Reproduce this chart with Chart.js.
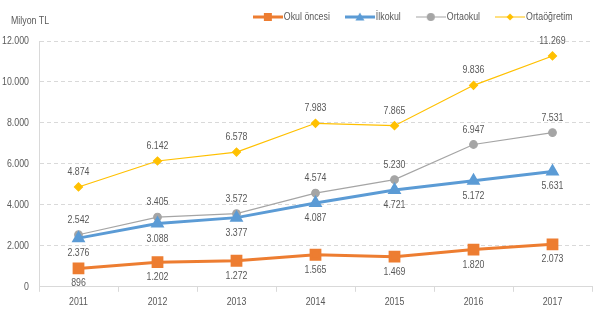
<!DOCTYPE html>
<html>
<head>
<meta charset="utf-8">
<script src="https://cdn.jsdelivr.net/npm/chart.js@4.4.0/dist/chart.umd.min.js"></script>
<style>
  html, body { margin: 0; padding: 0; background: #fff; }
  #wrap { width: 605px; height: 321px; }
</style>
</head>
<body>
<div id="wrap"><canvas id="chart"></canvas></div>
<script>
const years = ['2011', '2012', '2013', '2014', '2015', '2016', '2017'];
const okulOncesi = [896, 1202, 1272, 1565, 1469, 1820, 2073];
const ilkokul = [2376, 3088, 3377, 4087, 4721, 5172, 5631];
const ortaokul = [2542, 3405, 3572, 4574, 5230, 6947, 7531];
const ortaogretim = [4874, 6142, 6578, 7983, 7865, 9836, 11269];
const yTicks = [0, 2000, 4000, 6000, 8000, 10000, 12000];

const FONT = "'Liberation Sans', Arial, sans-serif";
const TEXT = '#595959';
const GRID = '#D9D9D9';

function fmt(v) {
    return String(v).replace(/\B(?=(\d{3})+(?!\d))/g, '.');
}

// the original uses a narrow font; squeeze text horizontally to match
const canvas = document.getElementById('chart');
const ctx = canvas.getContext('2d');
const SX = 0.8;
const rawFill = ctx.fillText.bind(ctx);
const rawMeasure = ctx.measureText.bind(ctx);
ctx.fillText = function (text, x, y) {
    ctx.save();
    ctx.translate(x, y);
    ctx.scale(SX, 1);
    rawFill(text, 0, 0);
    ctx.restore();
};
ctx.measureText = function (text) {
    const m = rawMeasure(text);
    return {
        width: m.width * SX,
        actualBoundingBoxAscent: m.actualBoundingBoxAscent,
        actualBoundingBoxDescent: m.actualBoundingBoxDescent,
        actualBoundingBoxLeft: m.actualBoundingBoxLeft * SX,
        actualBoundingBoxRight: m.actualBoundingBoxRight * SX
    };
};

// legend swatch: 30px line with marker in the middle
function swatch(color, lw, shape, size) {
    const c = document.createElement('canvas');
    c.width = 30; c.height = 12;
    const g = c.getContext('2d');
    const cx = 15, cy = 6;
    g.strokeStyle = color; g.fillStyle = color; g.lineWidth = lw;
    g.beginPath(); g.moveTo(0, cy); g.lineTo(30, cy); g.stroke();
    g.beginPath();
    if (shape === 'rect') g.rect(cx - size, cy - size, size * 2, size * 2);
    if (shape === 'triangle') { g.moveTo(cx, cy - size - 1); g.lineTo(cx + size + 1, cy + size); g.lineTo(cx - size - 1, cy + size); g.closePath(); }
    if (shape === 'circle') g.arc(cx, cy, size, 0, Math.PI * 2);
    if (shape === 'rectRot') { g.moveTo(cx, cy - size); g.lineTo(cx + size, cy); g.lineTo(cx, cy + size); g.lineTo(cx - size, cy); g.closePath(); }
    g.fill();
    return c;
}

const swatches = [
    swatch('#ED7D31', 3, 'rect', 4),
    swatch('#5B9BD5', 3, 'triangle', 3.5),
    swatch('#A5A5A5', 1, 'circle', 4),
    swatch('#FFC000', 1, 'rectRot', 3.5)
];

// value labels above / below each point, plus unit title
const valueLabels = {
    id: 'valueLabels',
    afterDatasetsDraw(chart) {
        const c = chart.ctx;
        c.save();
        c.font = '11px ' + FONT;
        c.fillStyle = TEXT;
        c.textAlign = 'center';
        c.textBaseline = 'middle';
        chart.data.datasets.forEach((ds, i) => {
            chart.getDatasetMeta(i).data.forEach((pt, j) => {
                const dy = ds.labelPos === 'above' ? -15 : 15;
                c.fillText(fmt(ds.data[j]), pt.x, pt.y + dy);
            });
        });
        c.textAlign = 'left';
        c.fillText('Milyon TL', 11, 21);
        c.restore();
    }
};

// extra room under the legend
const legendGap = {
    id: 'legendGap',
    beforeInit(chart) {
        const fit = chart.legend.fit;
        chart.legend.fit = function () {
            fit.call(this);
            this.height += 8.5;
        };
    }
};

new Chart(ctx, {
    type: 'line',
    data: {
        labels: years,
        datasets: [{
            label: 'Okul öncesi',
            data: okulOncesi,
            borderColor: '#ED7D31',
            backgroundColor: '#ED7D31',
            borderWidth: 3,
            pointStyle: 'rect',
            pointRadius: 6.2,
            labelPos: 'below'
        }, {
            label: 'İlkokul',
            data: ilkokul,
            borderColor: '#5B9BD5',
            backgroundColor: '#5B9BD5',
            borderWidth: 3,
            pointStyle: 'triangle',
            pointRadius: 5,
            labelPos: 'below'
        }, {
            label: 'Ortaokul',
            data: ortaokul,
            borderColor: '#A5A5A5',
            backgroundColor: '#A5A5A5',
            borderWidth: 1.2,
            pointStyle: 'circle',
            pointRadius: 3.8,
            labelPos: 'above'
        }, {
            label: 'Ortaöğretim',
            data: ortaogretim,
            borderColor: '#FFC000',
            backgroundColor: '#FFC000',
            borderWidth: 1.2,
            pointStyle: 'rectRot',
            pointRadius: 4,
            labelPos: 'above'
        }]
    },
    options: {
        responsive: true,
        maintainAspectRatio: false,
        animation: false,
        layout: { padding: { left: 2, right: 13, top: -8, bottom: 8 } },
        plugins: {
            legend: {
                position: 'top',
                align: 'end',
                labels: {
                    usePointStyle: true,
                    pointStyleWidth: 21,
                    font: { family: FONT, size: 11 },
                    color: TEXT,
                    padding: 19.5,
                    generateLabels(chart) {
                        return chart.data.datasets.map((ds, i) => ({
                            text: ds.label,
                            pointStyle: swatches[i],
                            fillStyle: ds.borderColor,
                            strokeStyle: ds.borderColor,
                            lineWidth: 0,
                            fontColor: TEXT,
                            hidden: false,
                            datasetIndex: i
                        }));
                    }
                }
            },
            tooltip: { enabled: false }
        },
        scales: {
            x: {
                offset: true,
                grid: { offset: true, drawOnChartArea: false, drawTicks: true, tickLength: 5, color: GRID },
                border: { color: GRID },
                ticks: { font: { family: FONT, size: 11 }, color: TEXT, padding: 4 }
            },
            y: {
                min: 0,
                max: 12000,
                afterBuildTicks(axis) { axis.ticks = yTicks.map(v => ({ value: v })); },
                afterFit(axis) { axis.width = 37; },
                grid: { color: GRID, drawTicks: false },
                border: { color: GRID, dash: [4, 3] },
                ticks: { font: { family: FONT, size: 11 }, color: TEXT, padding: 10, callback: v => fmt(v) }
            }
        }
    },
    plugins: [valueLabels, legendGap]
});
</script>
</body>
</html>
